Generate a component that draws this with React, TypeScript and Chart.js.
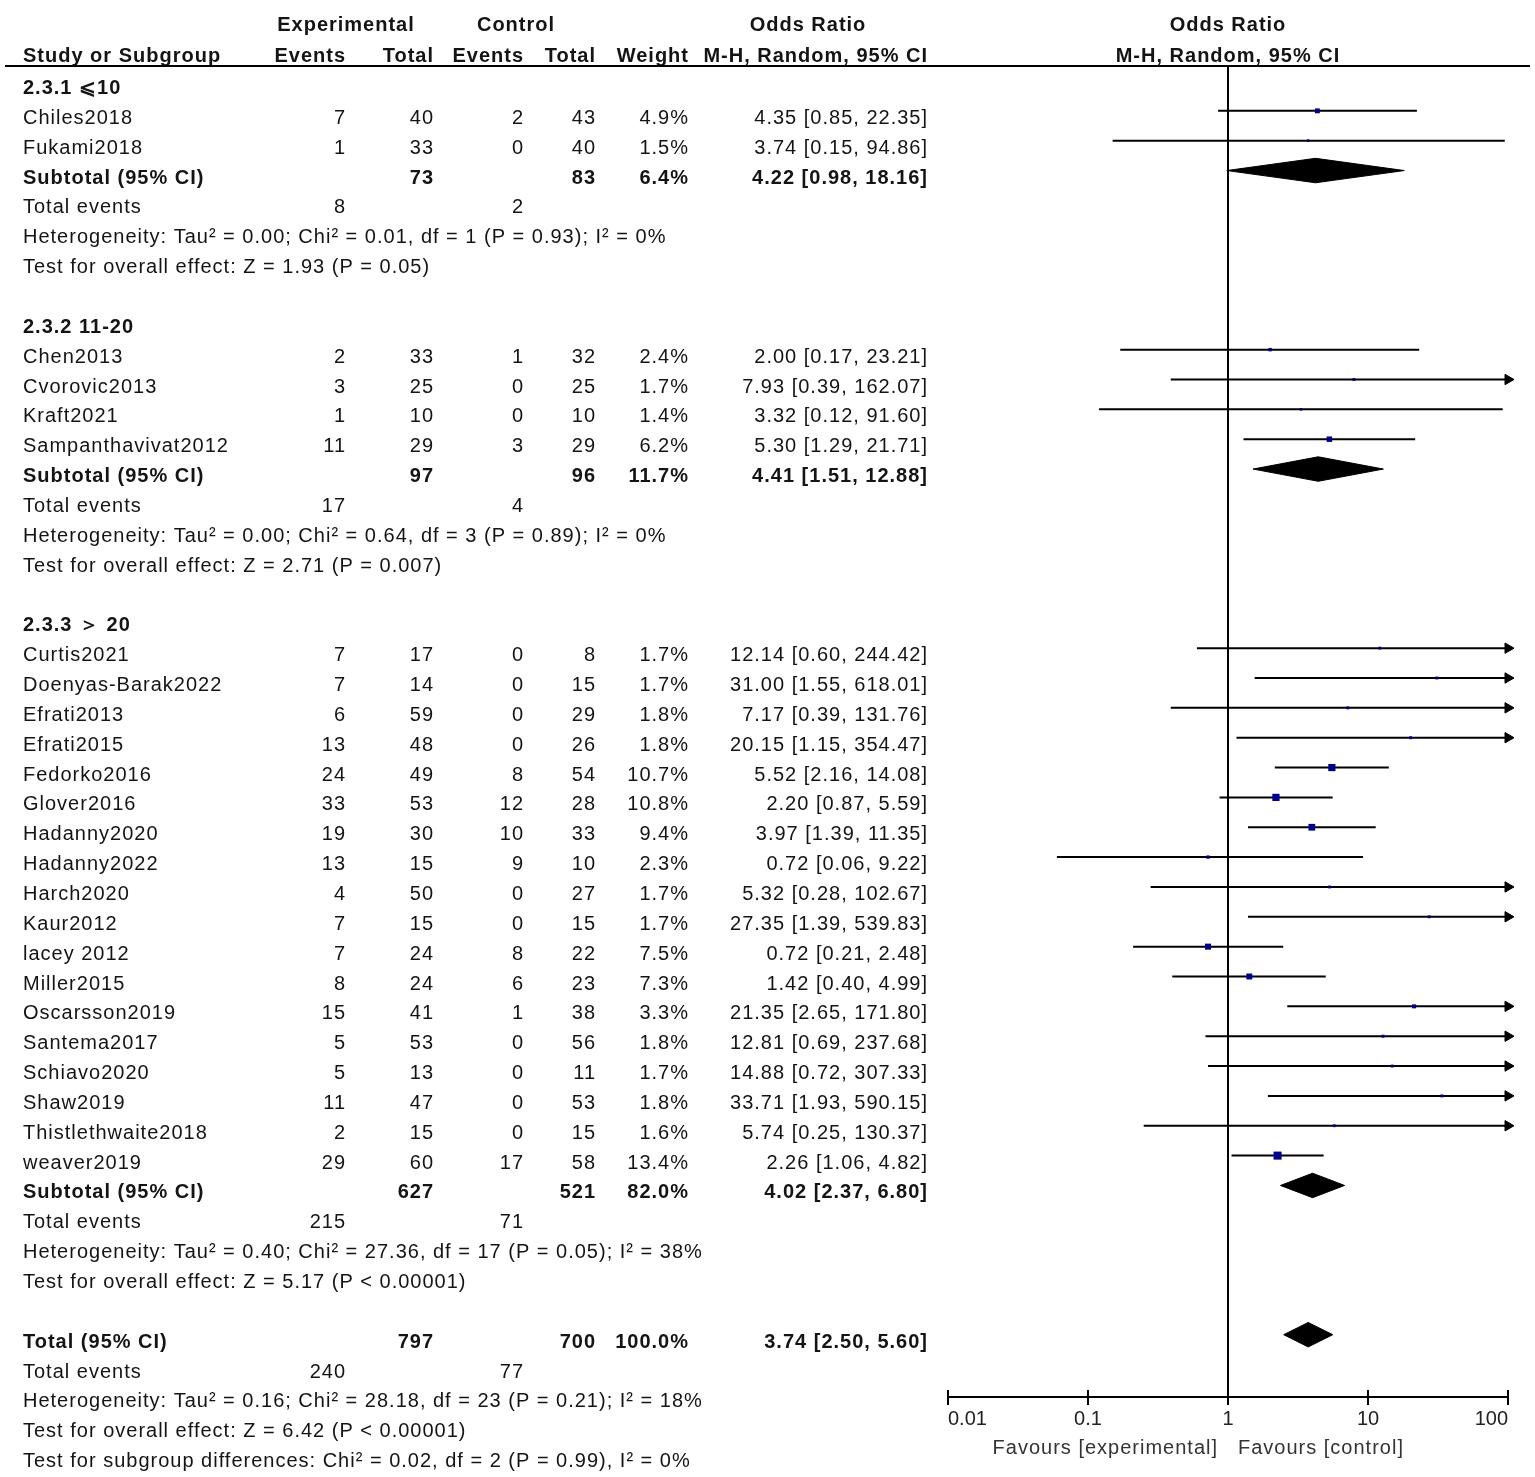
import React, { useEffect, useRef } from 'react';
import { Chart, registerables } from 'chart.js';

Chart.register(...registerables);

// ---------------- data ----------------
const groupLabels = ['2.3.1 ⩽10', '2.3.2 11-20', '2.3.3 ＞ 20'];

const studyNames = [
  'Chiles2018', 'Fukami2018',
  'Chen2013', 'Cvorovic2013', 'Kraft2021', 'Sampanthavivat2012',
  'Curtis2021', 'Doenyas-Barak2022', 'Efrati2013', 'Efrati2015', 'Fedorko2016', 'Glover2016',
  'Hadanny2020', 'Hadanny2022', 'Harch2020', 'Kaur2012', 'lacey 2012', 'Miller2015',
  'Oscarsson2019', 'Santema2017', 'Schiavo2020', 'Shaw2019', 'Thistlethwaite2018', 'weaver2019',
];
const studyGroup = [0, 0, 1, 1, 1, 1, 2, 2, 2, 2, 2, 2, 2, 2, 2, 2, 2, 2, 2, 2, 2, 2, 2, 2];
const expEvents = [7, 1, 2, 3, 1, 11, 7, 7, 6, 13, 24, 33, 19, 13, 4, 7, 7, 8, 15, 5, 5, 11, 2, 29];
const expTotal = [40, 33, 33, 25, 10, 29, 17, 14, 59, 48, 49, 53, 30, 15, 50, 15, 24, 24, 41, 53, 13, 47, 15, 60];
const ctlEvents = [2, 0, 1, 0, 0, 3, 0, 0, 0, 0, 8, 12, 10, 9, 0, 0, 8, 6, 1, 0, 0, 0, 0, 17];
const ctlTotal = [43, 40, 32, 25, 10, 29, 8, 15, 29, 26, 54, 28, 33, 10, 27, 15, 22, 23, 38, 56, 11, 53, 15, 58];
const weights = [4.9, 1.5, 2.4, 1.7, 1.4, 6.2, 1.7, 1.7, 1.8, 1.8, 10.7, 10.8, 9.4, 2.3, 1.7, 1.7, 7.5, 7.3, 3.3, 1.8, 1.7, 1.8, 1.6, 13.4];
const orEst = [4.35, 3.74, 2.0, 7.93, 3.32, 5.3, 12.14, 31.0, 7.17, 20.15, 5.52, 2.2, 3.97, 0.72, 5.32, 27.35, 0.72, 1.42, 21.35, 12.81, 14.88, 33.71, 5.74, 2.26];
const orLow = [0.85, 0.15, 0.17, 0.39, 0.12, 1.29, 0.6, 1.55, 0.39, 1.15, 2.16, 0.87, 1.39, 0.06, 0.28, 1.39, 0.21, 0.4, 2.65, 0.69, 0.72, 1.93, 0.25, 1.06];
const orHigh = [22.35, 94.86, 23.21, 162.07, 91.6, 21.71, 244.42, 618.01, 131.76, 354.47, 14.08, 5.59, 11.35, 9.22, 102.67, 539.83, 2.48, 4.99, 171.8, 237.68, 307.33, 590.15, 130.37, 4.82];

const subExpEvents = [8, 17, 215];
const subCtlEvents = [2, 4, 71];
const subExpTotal = [73, 97, 627];
const subCtlTotal = [83, 96, 521];
const subWeight = [6.4, 11.7, 82.0];
const subEst = [4.22, 4.41, 4.02];
const subLow = [0.98, 1.51, 2.37];
const subHigh = [18.16, 12.88, 6.8];
const subHet = [
  'Heterogeneity: Tau² = 0.00; Chi² = 0.01, df = 1 (P = 0.93); I² = 0%',
  'Heterogeneity: Tau² = 0.00; Chi² = 0.64, df = 3 (P = 0.89); I² = 0%',
  'Heterogeneity: Tau² = 0.40; Chi² = 27.36, df = 17 (P = 0.05); I² = 38%',
];
const subEffect = [
  'Test for overall effect: Z = 1.93 (P = 0.05)',
  'Test for overall effect: Z = 2.71 (P = 0.007)',
  'Test for overall effect: Z = 5.17 (P < 0.00001)',
];

const totalExpTotal = 797;
const totalCtlTotal = 700;
const totalWeight = 100.0;
const totalEst = 3.74;
const totalLow = 2.5;
const totalHigh = 5.6;
const totalExpEvents = 240;
const totalCtlEvents = 77;
const totalHet = 'Heterogeneity: Tau² = 0.16; Chi² = 28.18, df = 23 (P = 0.21); I² = 18%';
const totalEffect = 'Test for overall effect: Z = 6.42 (P < 0.00001)';
const subgroupDiff = 'Test for subgroup differences: Chi² = 0.02, df = 2 (P = 0.99), I² = 0%';

const xTicks = [0.01, 0.1, 1, 10, 100];
const favoursLeft = 'Favours [experimental]';
const favoursRight = 'Favours [control]';

// ---------------- layout (rows) ----------------
type TextRow = { r: number; kind: string; idx: number };
const textRows: TextRow[] = [];
const studyRow: number[] = [];
const subRow: number[] = [];
let rowCursor = 0;
for (let g = 0; g < groupLabels.length; g++) {
  textRows.push({ r: rowCursor++, kind: 'group', idx: g });
  for (let i = 0; i < studyNames.length; i++) {
    if (studyGroup[i] === g) {
      studyRow[i] = rowCursor;
      textRows.push({ r: rowCursor++, kind: 'study', idx: i });
    }
  }
  subRow[g] = rowCursor;
  textRows.push({ r: rowCursor++, kind: 'subtotal', idx: g });
  textRows.push({ r: rowCursor++, kind: 'subevents', idx: g });
  textRows.push({ r: rowCursor++, kind: 'subhet', idx: g });
  textRows.push({ r: rowCursor++, kind: 'subeffect', idx: g });
  rowCursor++;
}
const totalRow = rowCursor;
textRows.push({ r: rowCursor++, kind: 'total', idx: 0 });
textRows.push({ r: rowCursor++, kind: 'totevents', idx: 0 });
textRows.push({ r: rowCursor++, kind: 'tothet', idx: 0 });
textRows.push({ r: rowCursor++, kind: 'toteffect', idx: 0 });
textRows.push({ r: rowCursor++, kind: 'subdiff', idx: 0 });

const X_MIN = xTicks[0];
const X_MAX = xTicks[xTicks.length - 1];
const FONT = '"Liberation Sans", Arial, sans-serif';
const TXT = '#141414';
const COL = { name: 23, ee: 346, et: 434, ce: 524, ct: 596, w: 689, or: 928 };

const orText = (e: number, l: number, h: number) => `${e.toFixed(2)} [${l.toFixed(2)}, ${h.toFixed(2)}]`;
const pct = (w: number) => `${w.toFixed(1)}%`;

const DIAMOND_H = 0.41;

function diamond(est: number, lo: number, hi: number, r: number) {
  return {
    data: [
      { x: lo, y: r },
      { x: est, y: r - DIAMOND_H },
      { x: hi, y: r },
      { x: est, y: r + DIAMOND_H },
      { x: lo, y: r },
    ],
    showLine: true,
    fill: 'shape',
    backgroundColor: '#000',
    borderColor: '#000',
    borderWidth: 1,
    pointRadius: 0,
    order: 1,
  };
}

const tablePlugin = {
  id: 'forestTable',
  beforeDraw(chart: any) {
    const ctx = chart.ctx;
    ctx.save();
    ctx.fillStyle = '#fff';
    ctx.fillRect(0, 0, chart.width, chart.height);
    ctx.restore();
  },
  afterDraw(chart: any) {
    const ctx = chart.ctx;
    const ys = chart.scales.y;
    const xs = chart.scales.x;
    const area = chart.chartArea;
    const base = (r: number) => ys.getPixelForValue(r) + 13;
    ctx.save();
    ctx.fillStyle = TXT;
    ctx.textBaseline = 'alphabetic';
    (ctx as any).letterSpacing = '1px';
    const put = (t: string | number, x: number, y: number, align: string, bold = false) => {
      ctx.font = `${bold ? 'bold ' : ''}20px ${FONT}`;
      ctx.textAlign = align;
      ctx.fillText(String(t), x, y);
    };

    // header
    const h1 = base(-2.1);
    const h2 = base(-1.07);
    put('Experimental', COL.ee, h1, 'center', true);
    put('Control', 516, h1, 'center', true);
    put('Odds Ratio', 808, h1, 'center', true);
    const plotMid = (area.left + area.right) / 2;
    put('Odds Ratio', plotMid, h1, 'center', true);
    put('Study or Subgroup', COL.name, h2, 'left', true);
    put('Events', COL.ee, h2, 'right', true);
    put('Total', COL.et, h2, 'right', true);
    put('Events', COL.ce, h2, 'right', true);
    put('Total', COL.ct, h2, 'right', true);
    put('Weight', COL.w, h2, 'right', true);
    put('M-H, Random, 95% CI', COL.or, h2, 'right', true);
    put('M-H, Random, 95% CI', plotMid, h2, 'center', true);

    for (const row of textRows) {
      const y = base(row.r);
      const i = row.idx;
      switch (row.kind) {
        case 'group':
          put(groupLabels[i], COL.name, y, 'left', true);
          break;
        case 'study':
          put(studyNames[i], COL.name, y, 'left');
          put(expEvents[i], COL.ee, y, 'right');
          put(expTotal[i], COL.et, y, 'right');
          put(ctlEvents[i], COL.ce, y, 'right');
          put(ctlTotal[i], COL.ct, y, 'right');
          put(pct(weights[i]), COL.w, y, 'right');
          put(orText(orEst[i], orLow[i], orHigh[i]), COL.or, y, 'right');
          break;
        case 'subtotal':
          put('Subtotal (95% CI)', COL.name, y, 'left', true);
          put(subExpTotal[i], COL.et, y, 'right', true);
          put(subCtlTotal[i], COL.ct, y, 'right', true);
          put(pct(subWeight[i]), COL.w, y, 'right', true);
          put(orText(subEst[i], subLow[i], subHigh[i]), COL.or, y, 'right', true);
          break;
        case 'subevents':
          put('Total events', COL.name, y, 'left');
          put(subExpEvents[i], COL.ee, y, 'right');
          put(subCtlEvents[i], COL.ce, y, 'right');
          break;
        case 'subhet':
          put(subHet[i], COL.name, y, 'left');
          break;
        case 'subeffect':
          put(subEffect[i], COL.name, y, 'left');
          break;
        case 'total':
          put('Total (95% CI)', COL.name, y, 'left', true);
          put(totalExpTotal, COL.et, y, 'right', true);
          put(totalCtlTotal, COL.ct, y, 'right', true);
          put(pct(totalWeight), COL.w, y, 'right', true);
          put(orText(totalEst, totalLow, totalHigh), COL.or, y, 'right', true);
          break;
        case 'totevents':
          put('Total events', COL.name, y, 'left');
          put(totalExpEvents, COL.ee, y, 'right');
          put(totalCtlEvents, COL.ce, y, 'right');
          break;
        case 'tothet':
          put(totalHet, COL.name, y, 'left');
          break;
        case 'toteffect':
          put(totalEffect, COL.name, y, 'left');
          break;
        case 'subdiff':
          put(subgroupDiff, COL.name, y, 'left');
          break;
      }
    }

    // favours labels
    const one = xs.getPixelForValue(1);
    const fy = area.bottom + 57;
    ctx.fillStyle = '#333';
    put(favoursLeft, one - 10, fy, 'right');
    put(favoursRight, one + 10, fy, 'left');
    (ctx as any).letterSpacing = '0px';

    // header rule
    ctx.strokeStyle = '#000';
    ctx.lineWidth = 2;
    ctx.beginPath();
    ctx.moveTo(5, area.top);
    ctx.lineTo(1530, area.top);
    ctx.stroke();

    // upper half of tick marks
    ctx.beginPath();
    for (const v of xTicks) {
      const px = xs.getPixelForValue(v);
      ctx.moveTo(px, area.bottom - 7);
      ctx.lineTo(px, area.bottom);
    }
    ctx.stroke();
    ctx.restore();
  },
};

export default function App() {
  const ref = useRef<HTMLCanvasElement>(null);
  useEffect(() => {
    const canvas = ref.current;
    if (!canvas) return;

    const squares = {
      data: studyNames.map((_, i) => ({ x: orEst[i], y: studyRow[i] })),
      pointStyle: 'rect',
      pointRadius: (c: any) => (2.2 * Math.sqrt(weights[c.dataIndex] || 1)) / Math.SQRT2,
      pointBackgroundColor: '#00008b',
      pointBorderWidth: 0,
      showLine: false,
      order: 0,
    };

    const ciLines = studyNames.map((_, i) => ({
      data: [
        { x: Math.max(orLow[i], X_MIN), y: studyRow[i] },
        { x: Math.min(orHigh[i], X_MAX), y: studyRow[i] },
      ],
      showLine: true,
      borderColor: '#000',
      borderWidth: 2,
      pointStyle: 'triangle',
      pointRotation: 90,
      pointRadius: (c: any) => (c.dataIndex === 1 && orHigh[i] > X_MAX ? 6 : 0),
      pointBackgroundColor: '#000',
      pointBorderColor: '#000',
      pointBorderWidth: 1,
      clip: false,
      order: 1,
    }));

    const diamonds = [
      ...subEst.map((e, g) => diamond(e, subLow[g], subHigh[g], subRow[g])),
      diamond(totalEst, totalLow, totalHigh, totalRow),
    ];

    const chart = new Chart(canvas, {
      type: 'scatter',
      data: { datasets: [squares, ...ciLines, ...diamonds] as any },
      options: {
        responsive: false,
        animation: false,
        devicePixelRatio: 1,
        events: [],
        layout: { padding: { left: 948, right: 27, top: 66, bottom: 0 } },
        plugins: { legend: { display: false }, tooltip: { enabled: false } },
        scales: {
          x: {
            type: 'logarithmic',
            position: 'bottom',
            min: X_MIN,
            max: X_MAX,
            afterBuildTicks: (s: any) => {
              s.ticks = xTicks.map((v) => ({ value: v }));
            },
            afterFit: (s: any) => {
              s.height = 80;
            },
            ticks: {
              align: 'inner',
              autoSkip: false,
              maxRotation: 0,
              minRotation: 0,
              padding: 2,
              color: '#222',
              font: { family: FONT, size: 20 },
              callback: (v: any) => String(v),
            },
            grid: {
              drawOnChartArea: true,
              drawTicks: true,
              color: (c: any) => (c.tick && c.tick.value === 1 ? '#000' : 'rgba(0,0,0,0)'),
              lineWidth: 2,
              tickColor: '#000',
              tickLength: 8,
              tickWidth: 2,
            },
            border: { display: true, color: '#000', width: 2 },
          },
          y: {
            type: 'linear',
            reverse: true,
            min: -0.5025,
            max: 44.087,
            display: false,
          },
        },
      } as any,
      plugins: [tablePlugin],
    });
    return () => chart.destroy();
  }, []);

  return (
    <div style={{ position: 'absolute', left: 0, top: 0, width: 1535, height: 1477, background: '#fff' }}>
      <canvas ref={ref} width={1535} height={1477} style={{ display: 'block' }} />
    </div>
  );
}
